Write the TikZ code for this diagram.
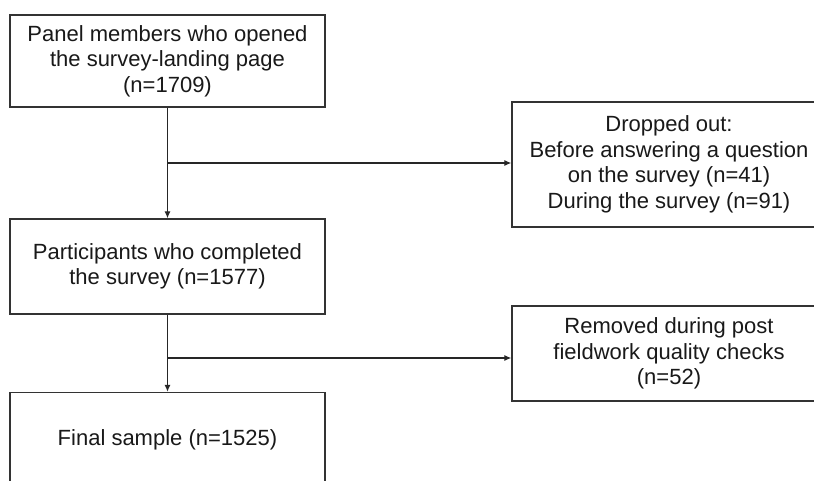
\documentclass[tikz,border=0pt]{standalone}
\usepackage{fontspec}
\setmainfont{Liberation Sans}
\usetikzlibrary{arrows.meta}
\tikzset{
  stagebox/.style={
    draw=black!80,
    line width=1.3pt,
    fill=white,
    align=center,
    inner sep=0pt,
    minimum width=315pt,
    minimum height=93pt,
    text=black!90,
    font=\fontsize{22}{25.5}\selectfont
  },
  exitbox/.style={stagebox, minimum width=314pt},
  flowarrow/.style={line width=1.2pt, draw=black!85, -{Latex[length=7pt,width=6pt]}}
}

\begin{document}
\begin{tikzpicture}[x=1pt,y=-1pt]
\useasboundingbox (0,0) rectangle (814,481);
\fill[white] (0,0) rectangle (814,481);

\node[stagebox, minimum height=92pt] (opened) at (167.5,61) {Panel members who opened\\the survey-landing page\\(n=1709)};
\node[stagebox, minimum height=95pt] (completed) at (167.5,266.5) {Participants who completed\\the survey (n=1577)};
\node[stagebox, minimum height=95pt] (final) at (167.5,440) {Final sample (n=1525)};

\node[exitbox, minimum height=125pt] (dropped) at (669,164.5) {Dropped out:\\Before answering a question\\on the survey (n=41)\\During the survey (n=91)};
\node[exitbox, minimum height=95pt] (removed) at (669,353.5) {Removed during post\\fieldwork quality checks\\(n=52)};

\coordinate (split1) at (167.5,163);
\coordinate (split2) at (167.5,358);

\draw[flowarrow] (opened) -- (completed);
\draw[flowarrow] (completed) -- (final);
\draw[flowarrow] (split1) -- (dropped.west |- split1);
\draw[flowarrow] (split2) -- (removed.west |- split2);

\end{tikzpicture}
\end{document}
